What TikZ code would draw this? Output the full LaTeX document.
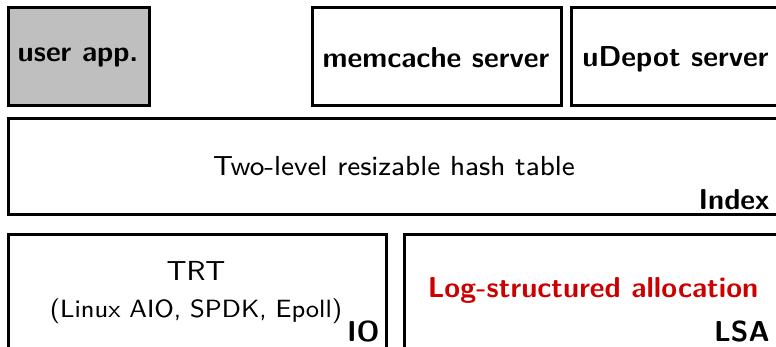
\documentclass[tikz,border=0pt]{standalone}
\usepackage{tikz}
\definecolor{lsared}{RGB}{204,0,0}
\begin{document}
\begin{tikzpicture}[x=0.5pt,y=-0.5pt,
  layer/.style={draw, line width=1.5pt},
  body/.style={font=\sffamily\fontsize{8}{10}\selectfont, scale=1.72, inner sep=0pt, anchor=base},
  note/.style={body, scale=1.56/1.72},
  tag/.style={font=\sffamily\bfseries\Large, inner sep=0pt, anchor=base}]
\useasboundingbox (0,0) rectangle (776,347);
% application layer
\draw [layer, fill=lightgray] (8,8) rectangle (149,106);
\draw [layer] (312,8) rectangle (561,106);
\draw [layer] (571,8) rectangle (800,106);
\node [tag] (app) at (78,62) {user app.};
\node [tag] (memc) at (436,68) {memcache server};
\node [tag, anchor=base west] (udep) at (582,67) {uDepot server};
% index
\draw [layer] (8,119) rectangle (800,215);
\node [body] (hash) at (394,176) {Two-level resizable hash table};
\node [tag, anchor=base east] (idx) at (770,210) {Index};
% io and lsa
\draw [layer] (8,235) rectangle (386,400);
\draw [layer] (404,235) rectangle (800,400);
\node [body] (trt) at (196,280) {TRT};
\node [note] (aio) at (196,317) {(Linux AIO, SPDK, Epoll)};
\node [tag, anchor=base east] (io) at (380,341) {IO};
\node [tag, lsared] (log) at (593,298) {Log-structured allocation};
\node [tag, anchor=base east] (lsa) at (770,341) {LSA};
\end{tikzpicture}
\end{document}
